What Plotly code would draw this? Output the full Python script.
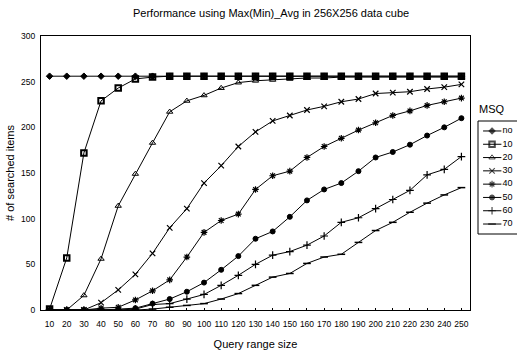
import plotly.graph_objects as go

W, H = 517, 355

categories = [10, 20, 30, 40, 50, 60, 70, 80, 90, 100, 110, 120, 130,
              140, 150, 160, 170, 180, 190, 200, 210, 220, 230, 240, 250]

series_names = ["no", "10", "20", "30", "40", "50", "60", "70"]

msq_no = [256, 256, 256, 256, 256, 256, 256, 256, 256, 256, 256, 256, 256,
          256, 256, 256, 256, 256, 256, 256, 256, 256, 256, 256, 256]
msq_10 = [1, 57, 172, 229, 243, 253, 255, 256, 256, 256, 256, 256, 256,
          256, 256, 256, 256, 256, 256, 256, 256, 256, 256, 256, 256]
msq_20 = [0, 0, 16, 56, 114, 149, 183, 217, 229, 235, 243, 249, 251,
          252, 253, 254, 254, 255, 255, 255, 255, 255, 255, 255, 255]
msq_30 = [0, 0, 0, 8, 22, 39, 62, 90, 111, 139, 158, 179, 195,
          207, 213, 219, 223, 228, 231, 237, 238, 239, 242, 244, 247]
msq_40 = [0, 0, 0, 2, 3, 11, 21, 33, 58, 85, 98, 105, 132,
          147, 152, 167, 179, 188, 197, 205, 213, 218, 224, 228, 232]
msq_50 = [0, 0, 0, 0, 1, 2, 7, 12, 20, 30, 44, 59, 78,
          86, 102, 120, 132, 139, 152, 167, 173, 181, 191, 200, 210]
msq_60 = [0, 0, 0, 0, 0, 1, 6, 7, 12, 17, 27, 38, 50,
          60, 64, 71, 81, 96, 101, 111, 121, 131, 148, 154, 168]
msq_70 = [0, 0, 0, 0, 0, 0, 1, 3, 5, 7, 12, 18, 27,
          36, 40, 51, 58, 61, 74, 87, 96, 107, 117, 126, 134]

y_ticks = [0, 50, 100, 150, 200, 250, 300]

all_series = [msq_no, msq_10, msq_20, msq_30, msq_40, msq_50, msq_60, msq_70]

# marker styling per series
symbols = ["diamond", "square-open", "triangle-up-open", "x-thin-open",
           "asterisk-open", "circle", "cross-thin-open", "line-ew-open"]
msizes = [5, 5.5, 5.5, 5.5, 5.5, 5, 5.5, 5.5]
mlw = [1, 2, 1, 1.2, 1.2, 1, 1.2, 1.5]

FONT = "Liberation Sans, Arial, sans-serif"

fig = go.Figure()

for name, vals, sym, ms, lw in zip(series_names, all_series, symbols, msizes, mlw):
    fig.add_trace(go.Scatter(
        x=categories, y=vals, mode="lines+markers", name=name,
        line=dict(color="black", width=1),
        marker=dict(symbol=sym, size=ms, color="black",
                    line=dict(color="black", width=lw)),
        showlegend=False, xaxis="x", yaxis="y"))

# custom compact legend drawn on a secondary axis pair
idx = list(range(len(series_names)))
for i, (name, sym, ms, lw) in enumerate(zip(series_names, symbols, msizes, mlw)):
    fig.add_trace(go.Scatter(
        x=[0.13, 0.36, 0.60], y=[i, i, i], mode="lines+markers",
        line=dict(color="black", width=1),
        marker=dict(symbol=sym, size=[0, ms, 0], color="black",
                    line=dict(color="black", width=[0, lw, 0])),
        showlegend=False, xaxis="x2", yaxis="y2", hoverinfo="skip"))
fig.add_trace(go.Scatter(
    x=[0.63] * len(series_names), y=idx, mode="text", text=series_names,
    textposition="middle right", textfont=dict(family=FONT, size=9, color="black"),
    showlegend=False, xaxis="x2", yaxis="y2", hoverinfo="skip"))

x0p, x1p = 41 / W, 470 / W
y0p, y1p = (H - 310) / H, (H - 36) / H
lx0, lx1 = 478 / W, 1.0
ly0, ly1 = (H - 234) / H, (H - 121) / H

fig.update_layout(
    width=W, height=H,
    margin=dict(l=0, r=0, t=0, b=0),
    paper_bgcolor="white", plot_bgcolor="white",
    font=dict(family=FONT, color="black"),
    xaxis=dict(domain=[x0p, x1p], range=[5, 255], tickvals=categories,
               ticktext=[str(c) for c in categories], tickfont=dict(size=8.5),
               showgrid=False, zeroline=False, showline=True, mirror=True,
               linecolor="black", linewidth=1, ticks="inside", ticklen=2,
               tickcolor="black", automargin=False, ticklabelstandoff=6,
               title=dict(text="Query range size", font=dict(size=11), standoff=12)),
    yaxis=dict(domain=[y0p, y1p], range=[0, 300], tickvals=y_ticks,
               tickfont=dict(size=8.5), showgrid=False, zeroline=False,
               showline=True, mirror=True, linecolor="black", linewidth=1,
               ticks="", automargin=False, ticklabelstandoff=3,
               title=dict(text="# of searched items", font=dict(size=11), standoff=4)),
    xaxis2=dict(domain=[lx0, lx1], range=[0, 1], visible=False, fixedrange=True),
    yaxis2=dict(domain=[ly0, ly1], range=[7.75, -0.75], visible=False, fixedrange=True),
    shapes=[dict(type="rect", xref="paper", yref="paper",
                 x0=lx0, x1=1.05, y0=ly0, y1=ly1,
                 line=dict(color="black", width=1))],
    annotations=[
        dict(text="Performance using Max(Min)_Avg in 256X256 data cube",
             x=271 / W, y=(H - 13) / H, xref="paper", yref="paper",
             showarrow=False, font=dict(size=11), xanchor="center", yanchor="middle"),
        dict(text="MSQ", x=492 / W, y=(H - 109) / H, xref="paper", yref="paper",
             showarrow=False, font=dict(size=11), xanchor="center", yanchor="middle"),
    ],
)

fig.write_html("out.html")
